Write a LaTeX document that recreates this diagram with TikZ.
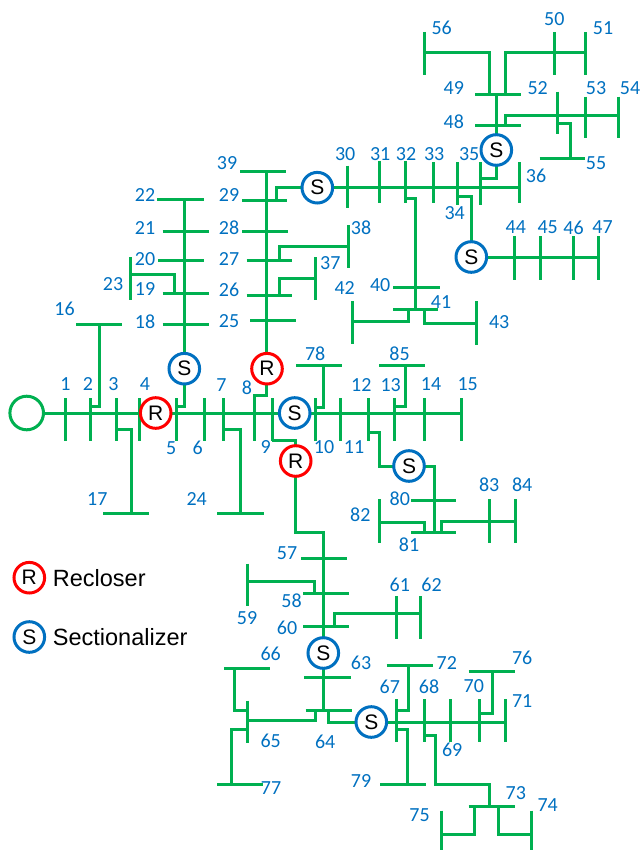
\documentclass[tikz,border=0pt]{standalone}
\usepackage{fontspec}
\setmainfont{Carlito}
\newfontfamily\arialf{Liberation Sans}
\definecolor{lgreen}{HTML}{00B050}
\definecolor{lblue}{HTML}{0070C0}
\definecolor{lred}{HTML}{FF0000}
\tikzset{
  w/.style={draw=lgreen, line width=3pt},
  lbl/.style={text=lblue, inner sep=0pt, font=\fontsize{20}{24}\selectfont},
  dev/.style={circle, line width=3pt, fill=white, minimum size=30.6pt, inner sep=0pt, font=\arialf\fontsize{21}{24}\selectfont},
  rec/.style={dev, draw=lred},
  sec/.style={dev, draw=lblue},
  legtext/.style={anchor=base west, inner sep=0pt, font=\arialf\fontsize{23.5}{28}\selectfont}
}
\begin{document}
\begin{tikzpicture}[x=1pt,y=-1pt]
\useasboundingbox (0,0) rectangle (641,850);
% device nodes (positions)
\coordinate (srcC) at (26.7,413);
\coordinate (R1C) at (155.7,413);
\coordinate (S1C) at (184.3,368.7);
\coordinate (R2C) at (267,368.7);
\coordinate (SMC) at (294.7,413);
\coordinate (R3C) at (295.7,461);
\coordinate (S6C) at (409,466);
\coordinate (S2C) at (317.3,187.7);
\coordinate (S3C) at (471.3,257);
\coordinate (S4C) at (496.3,150);
\coordinate (S5C) at (323.3,653);
\coordinate (S7C) at (371.3,722);

% ---------- main feeder ----------
\draw[w] (srcC) -- (461.3,413);
\foreach \x in {65.7,90,116.7,139.3,176.7,204,223.3,272.3,315.7,340.7,368.3,394,424,461.3}
  \draw[w] (\x,398) -- (\x,441);

% ---------- branch through S1 (bus 5) ----------
\draw[w] (184.3,199.5) -- (184.3,406.3) -- (176.7,406.3);
\draw[w] (157,199.5) -- (204,199.5);
\draw[w] (162.7,231.3) -- (209.3,231.3);
\draw[w] (158.3,260.7) -- (204,260.7);
\draw[w] (162.7,293) -- (209.3,293);
\draw[w] (162.7,324.7) -- (209.3,324.7);
\draw[w] (130,257.3) -- (130,300.3);
\draw[w] (130,274.7) -- (174,274.7) -- (174,293);
% 16
\draw[w] (76,324.7) -- (121.7,324.7);
\draw[w] (99.3,324.7) -- (99.3,406.3) -- (90,406.3);
% 17
\draw[w] (116.7,429.3) -- (131.7,429.3) -- (131.7,513.3);
\draw[w] (103.3,513.3) -- (149,513.3);
% 24
\draw[w] (223.3,429.3) -- (240.7,429.3) -- (240.7,513.3);
\draw[w] (217.3,513.3) -- (264,513.3);

% ---------- branch through R2 (bus 8) ----------
\draw[w] (266.7,172) -- (266.7,395.7) -- (254,395.7) -- (254,441);
\draw[w] (240,172) -- (286,172);
\draw[w] (242,200.7) -- (287,200.7);
\draw[w] (242.3,231.3) -- (288,231.3);
\draw[w] (246.7,260.7) -- (292.3,260.7);
\draw[w] (246.7,295.7) -- (292.3,295.7);
\draw[w] (250,320) -- (295.7,320);
\draw[w] (348,225.3) -- (348,268);
\draw[w] (348,246.3) -- (279.7,246.3) -- (279.7,260.7);
\draw[w] (315,257.3) -- (315,300.3);
\draw[w] (315,278) -- (279.7,278) -- (279.7,295.7);
% to S2
\draw[w] (276.7,200.7) -- (276.7,187.7) -- (S2C);
\draw[w] (S2C) -- (519.7,187.7);
\draw[w] (347.3,165.7) -- (347.3,208.3);
\draw[w] (379.7,161) -- (379.7,203.3);
\draw[w] (405.7,161) -- (405.7,203.3);
\draw[w] (433,162.3) -- (433,203.3);
\draw[w] (457.3,162.3) -- (457.3,205);
\draw[w] (480.3,162.3) -- (480.3,205);
\draw[w] (519.7,162.3) -- (519.7,203.3);
% 40-43
\draw[w] (405.7,199) -- (415.3,199) -- (415.3,309.7);
\draw[w] (393.3,287.3) -- (439.7,287.3);
\draw[w] (393.3,309.7) -- (438,309.7);
\draw[w] (352.3,301.3) -- (352.3,343.7);
\draw[w] (352.3,321.3) -- (408.3,321.3) -- (408.3,309.7);
\draw[w] (424.7,309.7) -- (424.7,323) -- (476.3,323);
\draw[w] (476.3,301.3) -- (476.3,344.7);
% S3 (44-47)
\draw[w] (457.3,196.7) -- (471.3,196.7) -- (S3C);
\draw[w] (S3C) -- (598.7,257);
\foreach \x in {514,540.7,573,598.7} \draw[w] (\x,236.3) -- (\x,279.7);
% S4 (48-56)
\draw[w] (480.3,178.3) -- (496.3,178.3) -- (496.3,94.7);
\draw[w] (475.3,125.3) -- (521.3,125.3);
\draw[w] (475.3,94.7) -- (521.3,94.7);
\draw[w] (489.7,94.7) -- (489.7,52.3) -- (424.7,52.3);
\draw[w] (424.7,32) -- (424.7,75);
\draw[w] (505.3,94.7) -- (505.3,52.3) -- (585.7,52.3);
\draw[w] (554,32.3) -- (554,75);
\draw[w] (585.7,32.3) -- (585.7,75);
\draw[w] (505.3,125.3) -- (505.3,115.7) -- (618.7,115.7);
\draw[w] (557,91.7) -- (557,134);
\draw[w] (585.7,96.7) -- (585.7,138.3);
\draw[w] (618.7,96.7) -- (618.7,138.3);
\draw[w] (557,123.3) -- (570.3,123.3) -- (570.3,158.7);
\draw[w] (539.7,158.7) -- (584.7,158.7);

% ---------- 78, 85 ----------
\draw[w] (296.3,365.3) -- (342.3,365.3);
\draw[w] (323.3,365.3) -- (323.3,407) -- (315.7,407);
\draw[w] (379,365.3) -- (424.7,365.3);
\draw[w] (405.7,365.3) -- (405.7,406.3) -- (394,406.3);

% ---------- S6 branch (80-84) ----------
\draw[w] (368.3,432) -- (379.7,432) -- (379.7,466) -- (S6C);
\draw[w] (S6C) -- (434.7,466) -- (434.7,532.7);
\draw[w] (411.3,500) -- (456.3,500);
\draw[w] (411.3,532.7) -- (456.3,532.7);
\draw[w] (379.7,499.3) -- (379.7,542.7);
\draw[w] (379.7,522) -- (424.7,522) -- (424.7,532.7);
\draw[w] (441.3,532.7) -- (441.3,521.7) -- (515.3,521.7);
\draw[w] (489,499.3) -- (489,542.7);
\draw[w] (515.3,499.3) -- (515.3,542.7);

% ---------- R3 branch (57-77) ----------
\draw[w] (272.3,440) -- (295.7,440) -- (R3C);
\draw[w] (R3C) -- (295.7,532.7) -- (323.3,532.7) -- (323.3,710);
\draw[w] (301.3,558.7) -- (347.3,558.7);
\draw[w] (303.3,593.7) -- (349,593.7);
\draw[w] (303.3,626.3) -- (349,626.3);
\draw[w] (247.3,563.7) -- (247.3,606);
\draw[w] (247.3,581) -- (314,581) -- (314,593.7);
\draw[w] (334,626.3) -- (334,613.3) -- (420.7,613.3);
\draw[w] (396.3,596) -- (396.3,639);
\draw[w] (420.7,596) -- (420.7,639);
\draw[w] (304,677.3) -- (350.7,677.3);
\draw[w] (305.7,710) -- (351.7,710);
\draw[w] (224,668.3) -- (270,668.3);
\draw[w] (234.7,668.3) -- (234.7,710) -- (247.3,710);
\draw[w] (247.3,700.7) -- (247.3,743);
\draw[w] (247.3,720.7) -- (315.7,720.7) -- (315.7,710);
\draw[w] (247.3,729) -- (231.3,729) -- (231.3,784);
\draw[w] (217.3,784) -- (263.3,784);
% S7
\draw[w] (328,710) -- (328,722) -- (S7C);
\draw[w] (S7C) -- (505.3,722);
\foreach \x in {396.7,424.7,450.7,479.7,505.3} \draw[w] (\x,699) -- (\x,742.3);
\draw[w] (396.7,710.7) -- (408,710.7) -- (408,665);
\draw[w] (386.7,665) -- (433,665);
\draw[w] (396.7,729) -- (407.3,729) -- (407.3,784);
\draw[w] (380,784) -- (425.7,784);
\draw[w] (468.7,671.3) -- (515.3,671.3);
\draw[w] (492.3,671.3) -- (492.3,713) -- (479.7,713);
\draw[w] (424.7,735.7) -- (435.3,735.7) -- (435.3,784) -- (489,784) -- (489,806.3);
\draw[w] (468.7,806.3) -- (515.3,806.3);
\draw[w] (474.7,806.3) -- (474.7,834) -- (441.3,834);
\draw[w] (441.3,810.7) -- (441.3,852);
\draw[w] (498.7,806.3) -- (498.7,834) -- (531.3,834);
\draw[w] (531.3,810.7) -- (531.3,852);

% ---------- devices ----------
\node[dev, draw=lgreen, minimum size=33.6pt] (src) at (srcC) {};
\node[rec] (R1) at (R1C) {R};
\node[sec] (S1) at (S1C) {S};
\node[rec] (R2) at (R2C) {R};
\node[sec] (SM) at (SMC) {S};
\node[rec] (R3) at (R3C) {R};
\node[sec] (S6) at (S6C) {S};
\node[sec] (S2) at (S2C) {S};
\node[sec] (S3) at (S3C) {S};
\node[sec] (S4) at (S4C) {S};
\node[sec] (S5) at (S5C) {S};
\node[sec] (S7) at (S7C) {S};

% ---------- legend ----------
\node[rec] (LR) at (29.3,577.7) {R};
\node[legtext] (LRt) at (52.7,586.7) {Recloser};
\node[sec] (LS) at (29.3,637) {S};
\node[legtext] (LSt) at (52.7,645.7) {Sectionalizer};

% ---------- labels ----------
\node[lbl] (n1) at (65.5,384) {1};
\node[lbl] (n2) at (88,384) {2};
\node[lbl] (n3) at (113.5,384) {3};
\node[lbl] (n4) at (145,384) {4};
\node[lbl] (n5) at (171.3,447.7) {5};
\node[lbl] (n6) at (197.7,447.7) {6};
\node[lbl] (n7) at (221.5,384.7) {7};
\node[lbl] (n8) at (247,388) {8};
\node[lbl] (n9) at (265.7,446.8) {9};
\node[lbl] (n10) at (324,446.8) {10};
\node[lbl] (n11) at (354,446.8) {11};
\node[lbl] (n12) at (361.3,384.7) {12};
\node[lbl] (n13) at (390.7,384.7) {13};
\node[lbl] (n14) at (431,383.8) {14};
\node[lbl] (n15) at (467.7,383.8) {15};
\node[lbl] (n16) at (64.5,309.3) {16};
\node[lbl] (n17) at (97.3,499) {17};
\node[lbl] (n18) at (145,321.3) {18};
\node[lbl] (n19) at (145,289) {19};
\node[lbl] (n20) at (145,259) {20};
\node[lbl] (n21) at (145,228) {21};
\node[lbl] (n22) at (145,195.5) {22};
\node[lbl] (n23) at (113,284.3) {23};
\node[lbl] (n24) at (196.7,499) {24};
\node[lbl] (n25) at (229,321.3) {25};
\node[lbl] (n26) at (229,289.7) {26};
\node[lbl] (n27) at (229,259) {27};
\node[lbl] (n28) at (229,228) {28};
\node[lbl] (n29) at (229,195) {29};
\node[lbl] (n30) at (345.2,153.7) {30};
\node[lbl] (n31) at (380.2,153.7) {31};
\node[lbl] (n32) at (406,153.7) {32};
\node[lbl] (n33) at (434.2,153.7) {33};
\node[lbl] (n34) at (454.7,213.5) {34};
\node[lbl] (n35) at (469.2,153.7) {35};
\node[lbl] (n36) at (536,175.8) {36};
\node[lbl] (n37) at (330.3,263.3) {37};
\node[lbl] (n38) at (361,228) {38};
\node[lbl] (n39) at (227,163.5) {39};
\node[lbl] (n40) at (380.2,285.5) {40};
\node[lbl] (n41) at (441,302.2) {41};
\node[lbl] (n42) at (344.7,288.5) {42};
\node[lbl] (n43) at (499.2,322.2) {43};
\node[lbl] (n44) at (515.8,227.5) {44};
\node[lbl] (n45) at (547.7,227.5) {45};
\node[lbl] (n46) at (573.5,227.5) {46};
\node[lbl] (n47) at (602.5,227.5) {47};
\node[lbl] (n48) at (453.8,121.7) {48};
\node[lbl] (n49) at (453.8,88.3) {49};
\node[lbl] (n50) at (554.3,18.8) {50};
\node[lbl] (n51) at (603,28.3) {51};
\node[lbl] (n52) at (537.7,88.3) {52};
\node[lbl] (n53) at (596,88.3) {53};
\node[lbl] (n54) at (630,88.3) {54};
\node[lbl] (n55) at (596,163.3) {55};
\node[lbl] (n56) at (441.7,28.3) {56};
\node[lbl] (n57) at (287,553.5) {57};
\node[lbl] (n58) at (291.5,601) {58};
\node[lbl] (n59) at (247,618.5) {59};
\node[lbl] (n60) at (287,627.7) {60};
\node[lbl] (n61) at (399.8,585.2) {61};
\node[lbl] (n62) at (431.5,585.2) {62};
\node[lbl] (n63) at (361,663.2) {63};
\node[lbl] (n64) at (325.2,741.5) {64};
\node[lbl] (n65) at (270.7,741.2) {65};
\node[lbl] (n66) at (270.7,653.5) {66};
\node[lbl] (n67) at (389.8,686.5) {67};
\node[lbl] (n68) at (429,686.5) {68};
\node[lbl] (n69) at (452.2,749.8) {69};
\node[lbl] (n70) at (473.8,686.5) {70};
\node[lbl] (n71) at (522.2,701.5) {71};
\node[lbl] (n72) at (446.8,663.2) {72};
\node[lbl] (n73) at (515.8,793.2) {73};
\node[lbl] (n74) at (547.7,804.8) {74};
\node[lbl] (n75) at (419.5,814.8) {75};
\node[lbl] (n76) at (522.2,658.2) {76};
\node[lbl] (n77) at (271,788.2) {77};
\node[lbl] (n78) at (315.2,353.3) {78};
\node[lbl] (n79) at (361,781.5) {79};
\node[lbl] (n80) at (399.8,498.5) {80};
\node[lbl] (n81) at (409,545.2) {81};
\node[lbl] (n82) at (360.3,514.3) {82};
\node[lbl] (n83) at (489.2,485.2) {83};
\node[lbl] (n84) at (522.2,485.2) {84};
\node[lbl] (n85) at (399.5,353.3) {85};
\end{tikzpicture}
\end{document}
